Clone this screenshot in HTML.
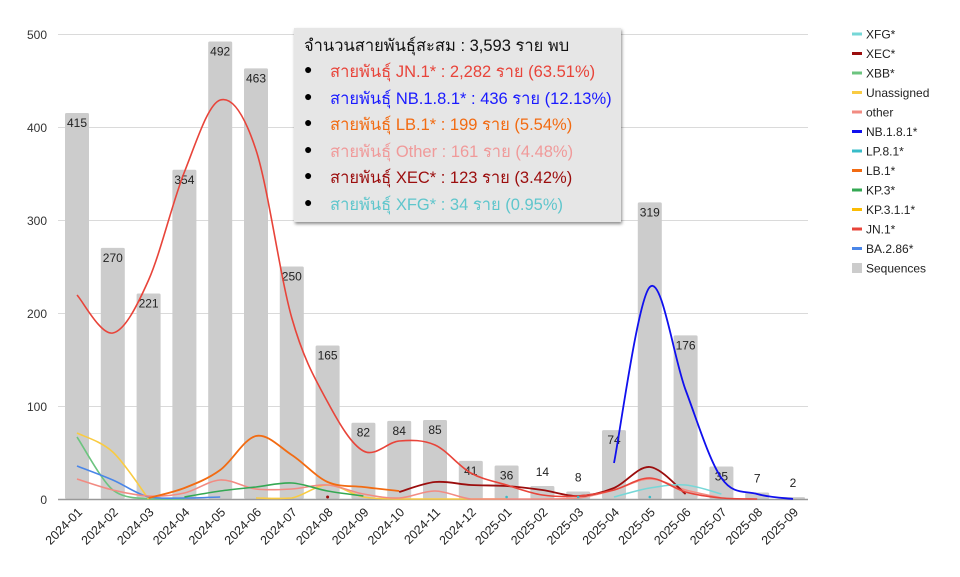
<!DOCTYPE html>
<html><head><meta charset="utf-8">
<style>
html,body{margin:0;padding:0;background:#fff;}
body{width:960px;height:572px;overflow:hidden;position:relative;font-family:"Liberation Sans",Arial,sans-serif;}
svg text{font-family:"Liberation Sans",Arial,sans-serif;}
#tip{position:absolute;left:294px;top:28px;width:327px;height:194px;background:#e6e6e6;box-shadow:1px 2px 3px rgba(0,0,0,0.45);font-family:"Liberation Sans","Noto Sans CJK SC","WenQuanYi Zen Hei",sans-serif;font-size:16.5px;}
#tip div{position:absolute;white-space:nowrap;}
.b{left:10px;font-size:14px;color:#000;}
.t{left:36px;}
</style></head><body>
<svg id="s" width="960" height="572" xmlns="http://www.w3.org/2000/svg">
<g stroke="#dadada" stroke-width="1">
<line x1="58" x2="808" y1="34.5" y2="34.5"/>
<line x1="58" x2="808" y1="127.5" y2="127.5"/>
<line x1="58" x2="808" y1="220.5" y2="220.5"/>
<line x1="58" x2="808" y1="313.5" y2="313.5"/>
<line x1="58" x2="808" y1="406.5" y2="406.5"/>
</g>
<g font-size="12" fill="#333" text-anchor="end">
<text x="47" y="39">500</text><text x="47" y="132">400</text><text x="47" y="225">300</text><text x="47" y="318">200</text><text x="47" y="411">100</text><text x="47" y="504">0</text>
</g>
<g id="bars"></g>
<line x1="58" x2="808" y1="499.5" y2="499.5" stroke="#999" stroke-width="1.5"/>
<g id="lines" fill="none" stroke-width="1.6"></g>
<g id="xl" font-size="12.5" fill="#222" text-anchor="end"></g>
<g font-size="12" fill="#222" id="leg"></g>
</svg>
<div id="tip">
<div style="left:10px;top:5px;color:#111;">จำนวนสายพันธุ์สะสม : 3,593 ราย พบ</div>
<div class="b" style="top:33px">●</div><div class="t" style="top:31px;color:#e8443a">สายพันธุ์ JN.1* : 2,282 ราย (63.51%)</div>
<div class="b" style="top:60px">●</div><div class="t" style="top:58px;color:#1a1aff">สายพันธุ์ NB.1.8.1* : 436 ราย (12.13%)</div>
<div class="b" style="top:86px">●</div><div class="t" style="top:84px;color:#f26b12">สายพันธุ์ LB.1* : 199 ราย (5.54%)</div>
<div class="b" style="top:113px">●</div><div class="t" style="top:111px;color:#f09a9a">สายพันธุ์ Other : 161 ราย (4.48%)</div>
<div class="b" style="top:139px">●</div><div class="t" style="top:137px;color:#9b0d0d">สายพันธุ์ XEC* : 123 ราย (3.42%)</div>
<div class="b" style="top:166px">●</div><div class="t" style="top:164px;color:#5fc6cc">สายพันธุ์ XFG* : 34 ราย (0.95%)</div>
</div>
<script>
var NS="http://www.w3.org/2000/svg";
function X(i){return 77+35.8*i;}
function Y(v){return 499-0.93*v;}
function el(t,a,p,txt){var e=document.createElementNS(NS,t);for(var k in a)e.setAttribute(k,a[k]);if(txt!=null)e.textContent=txt;p.appendChild(e);return e;}
var vals=[415,270,221,354,492,463,250,165,82,84,85,41,36,14,8,74,319,176,35,7,2];
var labs=["2024-01","2024-02","2024-03","2024-04","2024-05","2024-06","2024-07","2024-08","2024-09","2024-10","2024-11","2024-12","2025-01","2025-02","2025-03","2025-04","2025-05","2025-06","2025-07","2025-08","2025-09"];
var bg=document.getElementById("bars"),xl=document.getElementById("xl");
vals.forEach(function(v,i){
 var x=X(i),y=Y(v);
 el("rect",{x:x-12,y:y,width:24,height:499-y,fill:"#cccccc",rx:1.5},bg);
 var ty=v>30?y+14:y-10; if(v==35)ty=y+14;
 el("text",{x:x,y:ty,"font-size":12,fill:"#222","text-anchor":"middle"},bg,v);
 el("text",{x:x+6,y:513,transform:"rotate(-45 "+(x+6)+" 513)"},xl,labs[i]);
});
function path(pts,color,w){
 var d="M"+pts[0][0]+","+pts[0][1];
 for(var i=0;i<pts.length-1;i++){
  var p0=pts[i-1]||pts[i],p1=pts[i],p2=pts[i+1],p3=pts[i+2]||p2;
  var c1=[p1[0]+(p2[0]-p0[0])/6,p1[1]+(p2[1]-p0[1])/6],c2=[p2[0]-(p3[0]-p1[0])/6,p2[1]-(p3[1]-p1[1])/6];
  c1[1]=Math.min(c1[1],499);c2[1]=Math.min(c2[1],499);
  d+=" C"+c1+" "+c2+" "+p2;
 }
 el("path",{d:d,stroke:color,"stroke-width":w||1.6},document.getElementById("lines"));
}
function S(start,ys,c,w){path(ys.map(function(y,k){return [X(start+k),y];}),c,w);}
S(0,[437,490,499,499],"#6cc47f");
S(0,[433,452,499],"#f9cb42");
S(5,[498,498,485,497,499,499,499,499],"#f9cb42");
S(0,[466,480,497,498,497],"#4a86e8");
S(0,[479,490,496,493,480,489,489,485,494,498,491,499,499,499,498,490,479,490,498],"#f28b82");
S(3,[497,491,487,483,491,496],"#34a853");
S(2,[498,488,470,436,455,482,487,491],"#f26b12",1.8);
S(9,[492,482,485,486,490,496,488,467,494],"#9b0d0d",1.8);
S(15,[497,488,485,494],"#76d7d7");
S(0,[295,333,280,172,100,150,318,402,451,441,445,473,485,495,496,490,478,492,498,499],"#e8443a");
S(15,[463,287,390,478,494,499],"#1010ee",1.8);
el("circle",{cx:X(7),cy:497,r:1.5,fill:"#9b0d0d"},document.getElementById("lines"));
[12,14,16].forEach(function(i){el("circle",{cx:X(i),cy:497,r:1.3,fill:"#38bcc8"},document.getElementById("lines"));});
var leg=[["XFG*","#76d7d7"],["XEC*","#9b0d0d"],["XBB*","#6cc47f"],["Unassigned","#f9cb42"],["other","#f28b82"],["NB.1.8.1*","#1010ee"],["LP.8.1*","#38bcc8"],["LB.1*","#f26b12"],["KP.3*","#34a853"],["KP.3.1.1*","#fbbc04"],["JN.1*","#e8443a"],["BA.2.86*","#4a86e8"],["Sequences","#cccccc"]];
var lg=document.getElementById("leg");
leg.forEach(function(l,i){var y=34+19.5*i;
 if(i==12)el("rect",{x:852,y:y-5,width:10,height:10,fill:l[1]},lg);
 else el("rect",{x:852,y:y-1.5,width:10,height:3,fill:l[1]},lg);
 el("text",{x:866,y:y+4.5},lg,l[0]);});
</script>
</body></html>
